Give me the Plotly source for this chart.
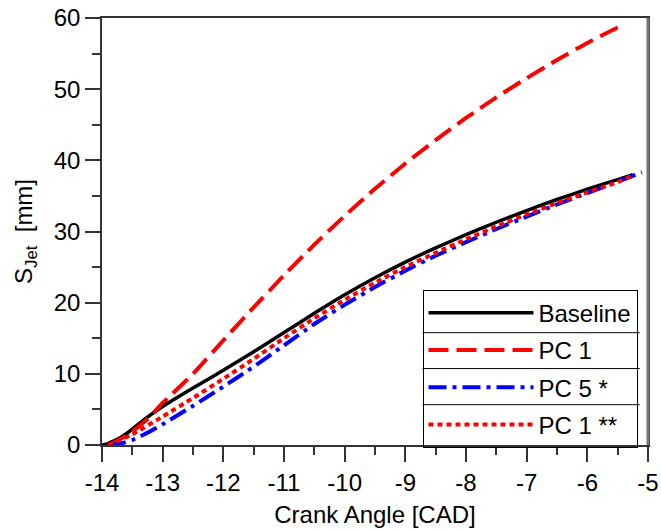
import plotly.graph_objects as go

# ---- data ----
x_base = [-14.0, -13.9, -13.8, -13.7, -13.55, -13.3, -13.0, -12.5, -12.0, -11.5, -11.0, -10.5,
          -10.0, -9.5, -9.0, -8.5, -8.0, -7.5, -7.0, -6.5, -6.0, -5.5, -5.25]
y_base = [0.0, 0.2, 0.6, 1.0, 1.9, 3.6, 5.4, 8.0, 10.5, 13.1, 15.8, 18.5,
          21.1, 23.5, 25.7, 27.7, 29.55, 31.3, 32.95, 34.5, 35.95, 37.3, 38.0]

x_pc1 = [-13.9, -13.77, -13.6, -13.44, -13.22, -13.0, -12.5, -12.0, -11.5, -11.0, -10.5,
         -10.0, -9.5, -9.0, -8.5, -8.0, -7.5, -7.0, -6.5, -6.0, -5.4]
y_pc1 = [0.0, 0.5, 1.3, 2.3, 3.9, 5.9, 10.0, 14.7, 19.35, 23.85, 28.15,
         32.2, 36.0, 39.55, 42.85, 45.95, 48.85, 51.55, 54.1, 56.5, 59.1]

x_pc5 = [-13.9, -13.7, -13.5, -13.3, -13.0, -12.5, -12.0, -11.5, -11.0, -10.5,
         -10.0, -9.5, -9.0, -8.5, -8.0, -7.5, -7.0, -6.5, -6.0, -5.5, -5.1]
y_pc5 = [0.0, 0.2, 0.7, 1.5, 2.9, 5.5, 8.2, 11.0, 14.0, 17.0,
         19.7, 22.2, 24.5, 26.6, 28.5, 30.35, 32.1, 33.8, 35.4, 37.0, 38.3]

x_pc1b = [-13.9, -13.8, -13.5, -13.0, -12.5, -12.0, -11.5, -11.0, -10.5,
          -10.0, -9.5, -9.0, -8.5, -8.0, -7.5, -7.0, -6.5, -6.0, -5.5, -5.25]
y_pc1b = [0.0, 0.3, 1.5, 4.0, 6.6, 9.3, 12.1, 15.0, 17.8,
          20.4, 22.8, 25.0, 27.0, 28.9, 30.7, 32.4, 34.0, 35.5, 36.95, 37.9]

series_names = ["Baseline", "PC 1", "PC 5 *", "PC 1 **"]
x_ticks = [-14, -13, -12, -11, -10, -9, -8, -7, -6, -5]
x_ticklabels = ["-14", "-13", "-12", "-11", "-10", "-9", "-8", "-7", "-6", "-5"]
y_ticks = [0, 10, 20, 30, 40, 50, 60]

FONT = "Arial, 'Liberation Sans', sans-serif"

styles = [
    dict(color="black", width=3.5, dash="solid"),
    dict(color="#ff0000", width=4, dash="20px,8px"),
    dict(color="#0000ff", width=4, dash="18px,6px,4px,6px"),
    dict(color="#ff0000", width=4, dash="5px,4px"),
]
xs = [x_base, x_pc1, x_pc5, x_pc1b]
ys = [y_base, y_pc1, y_pc5, y_pc1b]

fig = go.Figure()
for name, x, y, st in zip(series_names, xs, ys, styles):
    fig.add_trace(go.Scatter(x=x, y=y, mode="lines", name=name,
                             legendgroup=name,
                             line=dict(color=st["color"], width=st["width"],
                                       dash=st["dash"], shape="spline", smoothing=0.5)))

axis_common = dict(
    showgrid=False, zeroline=False, showline=True, linecolor="#333333", linewidth=1.5,
    mirror=True, ticks="outside", ticklen=15, tickwidth=1.5, tickcolor="#333333",
    tickfont=dict(family=FONT, size=24, color="black"), automargin=False,
    ticklabeloverflow="allow",
)

fig.update_xaxes(range=[-14, -5], tickvals=x_ticks, ticktext=x_ticklabels,
                 minor=dict(dtick=0.5, ticks="outside", ticklen=8, tickwidth=1.5, tickcolor="#333333"),
                 title=dict(text="Crank Angle [CAD]", font=dict(family=FONT, size=24, color="black"), standoff=12),
                 **axis_common)
fig.update_yaxes(range=[0, 60], tickvals=y_ticks,
                 minor=dict(dtick=5, ticks="outside", ticklen=8, tickwidth=1.5, tickcolor="#333333"),
                 title=dict(text="S<sub>Jet</sub>  [mm]", font=dict(family=FONT, size=24, color="black"), standoff=14),
                 **axis_common)

# right border drawn explicitly
fig.add_shape(type="line", xref="paper", yref="paper", x0=1, x1=1, y0=0, y1=1,
              line=dict(color="#777777", width=3), layer="above")

# legend separators (table-style legend)
for yp in [0.263, 0.179, 0.0944]:
    fig.add_shape(type="line", xref="paper", yref="paper", x0=0.587, x1=0.985, y0=yp, y1=yp,
                  line=dict(color="black", width=1))

fig.update_layout(
    width=661, height=530,
    margin=dict(l=102, r=13, t=18, b=85, autoexpand=False),
    plot_bgcolor="white", paper_bgcolor="white",
    font=dict(family=FONT, size=24, color="black"),
    legend=dict(x=0.587, y=0.3637, xanchor="left", yanchor="top",
                bgcolor="rgba(255,255,255,0)", bordercolor="black", borderwidth=1,
                itemwidth=105, tracegroupgap=3, traceorder="grouped",
                font=dict(family=FONT, size=24, color="black")),
    showlegend=True,
)

fig.write_html("out.html", config={"displayModeBar": False},
               post_script="document.body.style.margin='0';document.body.style.padding='0';"
                           "document.body.style.overflow='hidden';")
